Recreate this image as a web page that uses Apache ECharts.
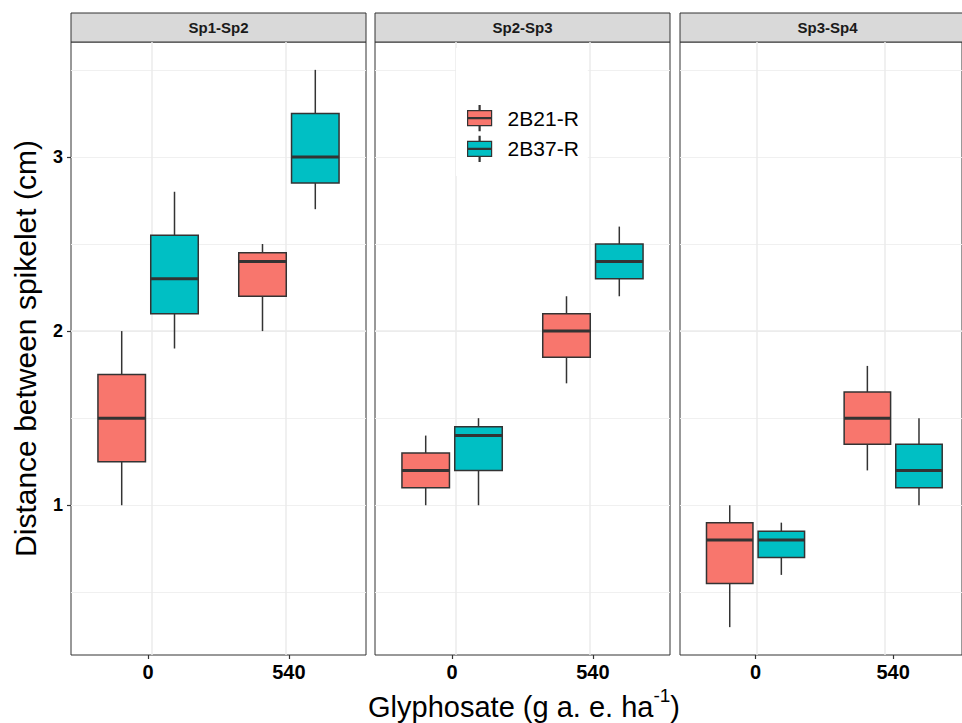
<!DOCTYPE html>
<html>
<head>
<meta charset="utf-8">
<script src="https://cdn.jsdelivr.net/npm/echarts@6/dist/echarts.min.js"></script>
<style>
  html, body { margin: 0; padding: 0; background: #fff; }
  #chart { width: 962px; height: 723px; }
</style>
</head>
<body>
<div id="chart"></div>
<script>
const facets = ['Sp1-Sp2', 'Sp2-Sp3', 'Sp3-Sp4'];
const doses = ['0', '540'];
const groups = ['2B21-R', '2B37-R'];
const groupColors = ['#F8766D', '#00BFC4'];
const yTicks = [1, 2, 3];

// [min, Q1, median, Q3, max] for dose 0 and dose 540
const sp12_2B21 = [[1.0, 1.25, 1.5, 1.75, 2.0], [2.0, 2.2, 2.4, 2.45, 2.5]];
const sp12_2B37 = [[1.9, 2.1, 2.3, 2.55, 2.8], [2.7, 2.85, 3.0, 3.25, 3.5]];
const sp23_2B21 = [[1.0, 1.1, 1.2, 1.3, 1.4], [1.7, 1.85, 2.0, 2.1, 2.2]];
const sp23_2B37 = [[1.0, 1.2, 1.4, 1.45, 1.5], [2.2, 2.3, 2.4, 2.5, 2.6]];
const sp34_2B21 = [[0.3, 0.55, 0.8, 0.9, 1.0], [1.2, 1.35, 1.5, 1.65, 1.8]];
const sp34_2B37 = [[0.6, 0.7, 0.8, 0.85, 0.9], [1.0, 1.1, 1.2, 1.35, 1.5]];

const panels = [
    [sp12_2B21, sp12_2B37],
    [sp23_2B21, sp23_2B37],
    [sp34_2B21, sp34_2B37]
];

// layout (ggplot-like facets)
const panelLeft = [71, 375, 680],
      panelW = 295,
      panelTop = 42,
      panelH = 613,
      stripTop = 13,
      inset = panelW * 0.6 / 2.2 - panelW / 4,
      yMin = 0.14,
      yMax = 3.66,
      font = '"Liberation Sans", Arial, sans-serif',
      ink = '#333333';

function makeBox(offset, color) {
    return function (params, api) {
        const cat = api.value(0);
        const band = api.size([1, 0])[0];
        const w = band * 0.3375;
        const pMin = api.coord([cat, api.value(1)]),
              pQ1 = api.coord([cat, api.value(2)]),
              pMed = api.coord([cat, api.value(3)]),
              pQ3 = api.coord([cat, api.value(4)]),
              pMax = api.coord([cat, api.value(5)]);
        const x = pMin[0] + band * offset;
        const line = { stroke: ink, lineWidth: 1.5 };
        return {
            type: 'group',
            children: [
                { type: 'line', shape: { x1: x, y1: pMax[1], x2: x, y2: pQ3[1] }, style: line },
                { type: 'line', shape: { x1: x, y1: pQ1[1], x2: x, y2: pMin[1] }, style: line },
                { type: 'rect', shape: { x: x - w / 2, y: pQ3[1], width: w, height: pQ1[1] - pQ3[1] },
                  style: { fill: color, stroke: ink, lineWidth: 1.5 } },
                { type: 'line', shape: { x1: x - w / 2, y1: pMed[1], x2: x + w / 2, y2: pMed[1] },
                  style: { stroke: ink, lineWidth: 3 } }
            ]
        };
    };
}

const grids = [], xAxes = [], yAxes = [], series = [], titles = [], strips = [];

panelLeft.forEach((left, i) => {
    grids.push({ left: left, top: panelTop, width: panelW, height: panelH,
                 show: true, borderColor: ink, borderWidth: 1 });
    xAxes.push({
        type: 'value', gridIndex: i, min: 0.4, max: 2.6, splitNumber: 2,
        axisLine: { show: false }, axisTick: { show: false }, axisLabel: { show: false },
        splitLine: { show: true, showMinLine: false, showMaxLine: false,
                     lineStyle: { color: '#EBEBEB', width: 1.5 } }
    });
});
panelLeft.forEach((left, i) => {
    grids.push({ left: left + inset, top: panelTop, width: panelW - 2 * inset, height: panelH });
    xAxes.push({
        type: 'category', gridIndex: 3 + i, data: doses,
        axisLine: { show: false },
        axisTick: { show: true, alignWithLabel: true, length: 4, lineStyle: { color: ink, width: 1.2 } },
        axisLabel: { fontSize: 20, fontWeight: 'bold', color: '#000', margin: 7, fontFamily: font },
        splitLine: { show: false }
    });
});
// minor y grid lines
panelLeft.forEach((left, i) => {
    yAxes.push({
        type: 'value', gridIndex: i, min: yMin, max: yMax, splitNumber: 7, position: 'left',
        axisLine: { show: false }, axisTick: { show: false }, axisLabel: { show: false },
        splitLine: { show: true, showMinLine: false, showMaxLine: false,
                     lineStyle: { color: '#F0F0F0', width: 1 } }
    });
});
// major y grid lines (+ labels on the first panel)
panelLeft.forEach((left, i) => {
    const first = i === 0;
    yAxes.push({
        type: 'value', gridIndex: i, min: yMin, max: yMax, splitNumber: 3, position: 'left',
        axisLine: { show: false },
        axisTick: { show: first, customValues: yTicks, length: 4, lineStyle: { color: ink, width: 1.2 } },
        axisLabel: { show: first, customValues: yTicks, fontSize: 18, fontWeight: 'bold',
                     color: '#000', margin: 8, fontFamily: font },
        splitLine: { show: true, showMinLine: false, showMaxLine: false,
                     lineStyle: { color: '#EBEBEB', width: 1.5 } },
        name: first ? 'Distance between spikelet (cm)' : '',
        nameLocation: 'middle', nameGap: 31,
        nameTextStyle: { fontSize: 30, color: '#000', fontFamily: font }
    });
});
panelLeft.forEach((left, i) => {
    yAxes.push({ type: 'value', gridIndex: 3 + i, min: yMin, max: yMax, show: false });
});

panels.forEach((panel, i) => {
    panel.forEach((stats, g) => {
        series.push({
            type: 'custom',
            name: groups[g],
            xAxisIndex: 3 + i,
            yAxisIndex: 6 + i,
            itemStyle: { color: groupColors[g] },
            encode: { x: 0, y: [1, 2, 3, 4, 5] },
            data: stats.map((s, k) => [k].concat(s)),
            renderItem: makeBox(g === 0 ? -0.1875 : 0.1875, groupColors[g])
        });
    });
    titles.push({
        text: facets[i], left: panelLeft[i] + panelW / 2, top: stripTop + 7, textAlign: 'center', padding: 0,
        textStyle: { fontSize: 15, fontWeight: 'bold', color: '#1A1A1A', fontFamily: font }
    });
    strips.push({
        type: 'rect', z: 0,
        shape: { x: panelLeft[i], y: stripTop, width: panelW, height: panelTop - stripTop },
        style: { fill: '#D9D9D9', stroke: ink, lineWidth: 1 }
    });
});

titles.push({
    text: '{t|Glyphosate (g a. e. ha}{s|-1}{t|)}',
    left: 524, top: 686, textAlign: 'center', padding: 0,
    textStyle: {
        fontFamily: font, color: '#000', fontWeight: 'normal',
        rich: {
            t: { fontSize: 29, lineHeight: 35, verticalAlign: 'bottom', color: '#000',
                 fontWeight: 'normal', fontFamily: font },
            s: { fontSize: 19, lineHeight: 20, verticalAlign: 'top', color: '#000',
                 fontWeight: 'normal', fontFamily: font }
        }
    }
});

const boxIcon = 'path://M0,5H24V20H0Z M11.5,0H12.5V5H11.5Z M11.5,20H12.5V25H11.5Z M0,12H24V13H0Z';

const option = {
    animation: false,
    backgroundColor: '#fff',
    textStyle: { fontFamily: font },
    title: titles,
    graphic: strips,
    legend: {
        orient: 'vertical', left: 456, top: 48,
        backgroundColor: '#fff',
        padding: [57, 9, 14, 11],
        itemWidth: 24, itemHeight: 25, itemGap: 4.5,
        selectedMode: false,
        textStyle: { fontSize: 21, color: '#000', fontFamily: font, padding: [0, 0, 0, 11], lineHeight: 25 },
        data: groups.map((g, k) => ({
            name: g, icon: boxIcon,
            itemStyle: { color: groupColors[k], borderColor: ink, borderWidth: 1.2 }
        }))
    },
    grid: grids,
    xAxis: xAxes,
    yAxis: yAxes,
    series: series
};

const chart = echarts.init(document.getElementById('chart'), null, { renderer: 'svg' });
chart.setOption(option);
</script>
</body>
</html>
